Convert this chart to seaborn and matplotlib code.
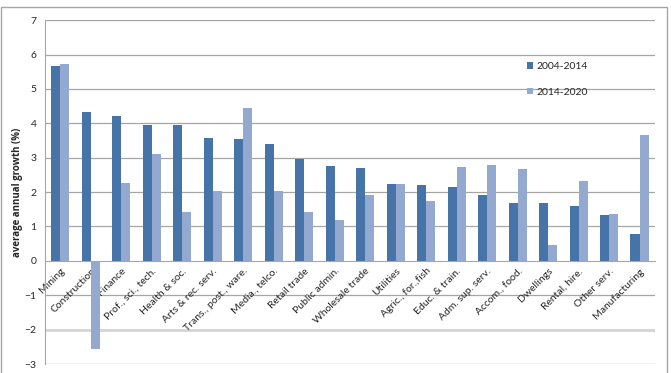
import numpy as np
import pandas as pd
import seaborn as sns
import matplotlib.pyplot as plt
from matplotlib.patches import Rectangle

# values
sectors = ["Mining", "Construction", "Finance", "Prof., sci., tech.", "Health & soc.",
           "Arts & rec. serv.", "Trans., post., ware.", "Media., telco.", "Retail trade",
           "Public admin.", "Wholesale trade", "Utilities", "Agric., for.,fish",
           "Educ. & train.", "Adm. sup. serv.", "Accom., food.", "Dwellings",
           "Rental, hire.", "Other serv.", "Manufacturing"]
growth_2004_2014 = [5.68, 4.34, 4.22, 3.96, 3.96, 3.57, 3.54, 3.40, 2.95, 2.76,
                    2.71, 2.24, 2.22, 2.16, 1.93, 1.68, 1.67, 1.59, 1.33, 0.77]
growth_2014_2020 = [5.72, -2.57, 2.25, 3.10, 1.42, 2.04, 4.45, 2.04, 1.42, 1.18,
                    1.92, 2.24, 1.75, 2.73, 2.80, 2.67, 0.45, 2.32, 1.37, 3.65]
periods = ["2004-2014", "2014-2020"]
colors = ["#4673A8", "#93A9D0"]

df = pd.DataFrame({
    "sector": sectors * 2,
    "period": [periods[0]] * len(sectors) + [periods[1]] * len(sectors),
    "growth": growth_2004_2014 + growth_2014_2020,
})

sns.set_style("white")
plt.rcParams["font.family"] = ["Lato", "DejaVu Sans"]

fig = plt.figure(figsize=(6.71, 3.73), dpi=100)
ax = fig.add_axes([0.067, 0.024, 0.909, 0.922])

sns.barplot(data=df, x="sector", y="growth", hue="period", palette=colors,
            width=0.6, saturation=1, linewidth=0, ax=ax, legend=True)

ax.set_ylim(-3, 7)
ax.set_xlim(-0.5, len(sectors) - 0.5)
ax.set_yticks(range(-3, 8))
ax.tick_params(axis="y", labelsize=7.5, length=0, pad=6)
for y in range(-3, 8):
    if y == -2:
        # this gridline is drawn lighter and thicker in the original
        ax.axhline(y, color="#d4d4d4", lw=2, zorder=0)
    elif y != 0:
        ax.axhline(y, color="#a6a6a6", lw=0.9, zorder=0)

ax.spines["top"].set_visible(False)
ax.spines["right"].set_visible(False)
ax.spines["left"].set_color("#a6a6a6")
ax.spines["bottom"].set_position(("data", 0))
ax.spines["bottom"].set_color("#a6a6a6")

ax.set_xticks(range(len(sectors)))
ax.set_xticklabels(sectors, rotation=45, ha="right", rotation_mode="anchor", fontsize=7.5)
ax.tick_params(axis="x", which="major", length=0, pad=4)
ax.set_xticks(np.arange(-0.5, len(sectors), 1), minor=True)
ax.tick_params(axis="x", which="minor", length=4, color="#a6a6a6", direction="out")

ax.set_xlabel("")
ax.set_ylabel("average annual growth (%)", fontsize=7, fontweight="bold",
              family=["Open Sans", "DejaVu Sans"])
ax.yaxis.set_label_coords(-0.036, 0.5)

leg = ax.legend(loc="upper left", bbox_to_anchor=(0.775, 0.905), frameon=False,
                fontsize=7.5, handlelength=0.6, handleheight=0.6, handletextpad=0.3,
                labelspacing=1.6)

fig.patches.append(Rectangle((0.002, -0.01), 0.992, 0.99, transform=fig.transFigure,
                             fill=False, edgecolor="#a6a6a6", lw=1))

fig.savefig("out.png", dpi=100)
